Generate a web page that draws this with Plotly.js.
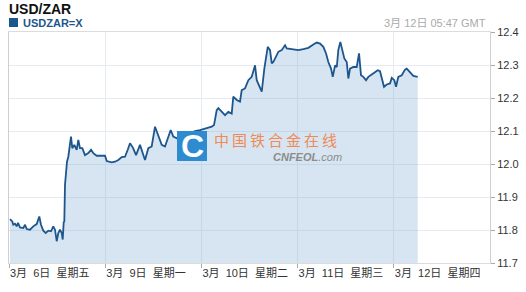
<!DOCTYPE html>
<html>
<head>
<meta charset="utf-8">
<script src="https://cdn.plot.ly/plotly-3.0.1.min.js"></script>
<style>
html,body{margin:0;padding:0;background:#fff;}
#chart{width:526px;height:292px;}
</style>
</head>
<body>
<div id="chart"></div>
<script>
// Trading-time hours since 3月6日 00:00 (weekend removed)
var hours = [0.25,0.82,1.07,1.5,1.92,2.25,2.74,3.57,4.0,4.42,5.24,5.6,6.06,6.91,7.31,7.56,7.98,8.56,9.16,9.81,
10.48,11.05,11.48,11.9,12.3,12.72,13.15,13.4,13.65,13.8,13.97,14.22,14.47,14.8,15.05,15.47,15.79,16.29,16.89,17.29,
17.71,18.29,18.96,19.79,20.46,21.03,21.88,22.7,23.95,24.38,25.62,26.45,27.27,28.12,28.94,29.62,30.19,30.94,31.7,32.68,
33.93,34.76,35.6,36.43,37.25,38.1,38.92,39.75,40.34,40.99,41.84,42.66,43.49,45.16,46.4,47.65,49.33,50.57,51.15,51.82,
52.22,53.07,53.89,54.72,55.56,55.96,56.81,57.63,58.06,58.88,59.71,60.55,61.38,61.8,62.2,63.05,63.7,64.12,64.55,65.12,
65.55,65.94,66.54,67.19,68.04,68.86,69.29,70.53,72.18,73.43,74.68,75.93,76.77,77.6,78.43,79.1,79.67,80.34,80.77,81.35,
81.78,82.16,82.66,83.16,83.66,84.26,84.66,85.08,85.9,86.75,87.33,87.82,88.4,89.07,89.65,90.49,91.32,91.99,92.56,92.99,
93.56,94.24,95.06,95.49,96.13,96.56,97.13,97.98,98.8,99.23,100.05,100.87,101.97];
var rate = [11.833,11.826,11.816,11.819,11.811,11.822,11.808,11.806,11.816,11.803,11.801,11.807,11.811,11.818,11.836,11.841,11.816,11.798,11.791,11.798,
11.796,11.811,11.801,11.766,11.791,11.801,11.791,11.771,11.824,11.826,11.937,11.967,12.007,12.022,12.053,12.083,12.048,12.058,12.043,12.073,
12.048,12.048,12.027,12.033,12.043,12.033,12.025,12.025,12.025,12.009,12.005,12.007,12.012,12.021,12.022,12.043,12.063,12.049,12.027,12.058,
12.012,12.048,12.053,12.113,12.083,12.058,12.053,12.083,12.103,12.083,12.078,12.083,12.085,12.094,12.100,12.103,12.108,12.113,12.118,12.163,
12.169,12.158,12.148,12.158,12.153,12.204,12.194,12.189,12.224,12.229,12.254,12.264,12.299,12.254,12.244,12.219,12.289,12.330,12.355,12.345,
12.305,12.309,12.324,12.340,12.345,12.360,12.350,12.348,12.345,12.348,12.352,12.362,12.368,12.365,12.355,12.335,12.309,12.289,12.264,12.299,
12.294,12.345,12.370,12.345,12.320,12.309,12.259,12.289,12.294,12.294,12.335,12.269,12.264,12.254,12.264,12.271,12.279,12.284,12.281,12.259,
12.234,12.241,12.244,12.261,12.254,12.234,12.264,12.269,12.286,12.289,12.277,12.267,12.264];

var dayTicks = [0, 24, 48, 72, 96];
var dayLabels = ['3月\u00a0\u00a06日\u00a0\u00a0星期五','3月\u00a0\u00a09日\u00a0\u00a0星期一','3月\u00a0\u00a010日\u00a0\u00a0星期二','3月\u00a0\u00a011日\u00a0\u00a0星期三','3月\u00a0\u00a012日\u00a0\u00a0星期四'];
var yTicks = [11.7, 11.8, 11.9, 12.0, 12.1, 12.2, 12.3, 12.4];
var chartTitle = 'USD/ZAR';
var seriesName = 'USDZAR=X';
var stamp = '3月 12日 05:47 GMT';

var FONT = 'Liberation Sans, Arial, Noto Sans CJK SC, sans-serif';

var trace = {
  x: hours, y: rate, type: 'scatter', mode: 'lines',
  line: {color: '#1d568c', width: 1.8},
  fill: 'tozeroy', fillcolor: 'rgba(120,170,210,0.30)',
  hoverinfo: 'skip', showlegend: false
};

var layout = {
  width: 526, height: 292,
  margin: {l: 9, r: 36, t: 32, b: 29, pad: 0},
  paper_bgcolor: '#fff', plot_bgcolor: '#fff',
  font: {family: FONT, size: 11, color: '#333'},
  title: {text: '<b>' + chartTitle + '</b>', xref: 'container', yref: 'container',
          x: 9/526, xanchor: 'left', y: 1 - 9/292, yanchor: 'middle',
          font: {family: FONT, size: 14, color: '#111'}},
  xaxis: {
    range: [0, 120], tickmode: 'array', tickvals: dayTicks, ticktext: dayLabels,
    ticklabelposition: 'outside right',
    ticks: 'outside', ticklen: 4, tickcolor: '#aaa',
    showgrid: true, gridcolor: '#e6ebf2', gridwidth: 1,
    showline: true, linecolor: '#dcdcdc', mirror: true,
    zeroline: false, fixedrange: true,
    tickfont: {family: FONT, size: 11, color: '#333'}
  },
  yaxis: {
    side: 'right', range: [11.7, 12.4], tickmode: 'array', tickvals: yTicks,
    tickformat: '.1f', ticks: 'outside', ticklen: 4, tickcolor: '#aaa',
    showgrid: true, gridcolor: '#e6ebf2', gridwidth: 1,
    showline: true, linecolor: '#cfcfcf', mirror: true,
    zeroline: false, fixedrange: true,
    tickfont: {family: FONT, size: 11, color: '#333'}
  },
  shapes: [
    {type: 'rect', xref: 'paper', yref: 'paper', x0: 0, x1: 9/481, y0: (263-27)/231, y1: (263-18)/231,
     fillcolor: '#1d568c', line: {width: 0}},
    {type: 'rect', xref: 'paper', yref: 'paper', x0: (177-9)/481, x1: (207-9)/481, y0: (263-161)/231, y1: (263-131)/231,
     fillcolor: '#2f8bd0', line: {width: 0}, layer: 'above'}
  ],
  annotations: [
    {xref: 'paper', yref: 'paper', x: 12/481, y: (263-22.5)/231, xanchor: 'left', yanchor: 'middle',
     text: '<b>' + seriesName + '</b>', showarrow: false, font: {family: FONT, size: 11, color: '#1d568c'}},
    {xref: 'paper', yref: 'paper', x: (488-9)/481, y: (263-22.5)/231, xanchor: 'right', yanchor: 'middle',
     text: stamp, showarrow: false, font: {family: FONT, size: 11, color: '#aaaaaa'}},
    {xref: 'paper', yref: 'paper', x: (192-9)/481, y: (263-146)/231, xanchor: 'center', yanchor: 'middle',
     text: '<b>C</b>', showarrow: false, font: {family: FONT, size: 32, color: '#ffffff'}},
    {xref: 'paper', yref: 'paper', x: (212-9)/481, y: (263-139)/231, xanchor: 'left', yanchor: 'middle',
     text: '中\u2009国\u2009铁\u2009合\u2009金\u2009在\u2009线', showarrow: false,
     font: {family: 'Noto Sans CJK SC, sans-serif', size: 15, color: '#ef8a55'}},
    {xref: 'paper', yref: 'paper', x: (271-9)/481, y: (263-157)/231, xanchor: 'left', yanchor: 'middle',
     text: '<b><i>CNFEOL</i></b><i>.com</i>', showarrow: false,
     font: {family: FONT, size: 11, color: '#8c8c8c'}}
  ]
};

Plotly.newPlot('chart', [trace], layout, {displayModeBar: false, staticPlot: true});
</script>
</body>
</html>
